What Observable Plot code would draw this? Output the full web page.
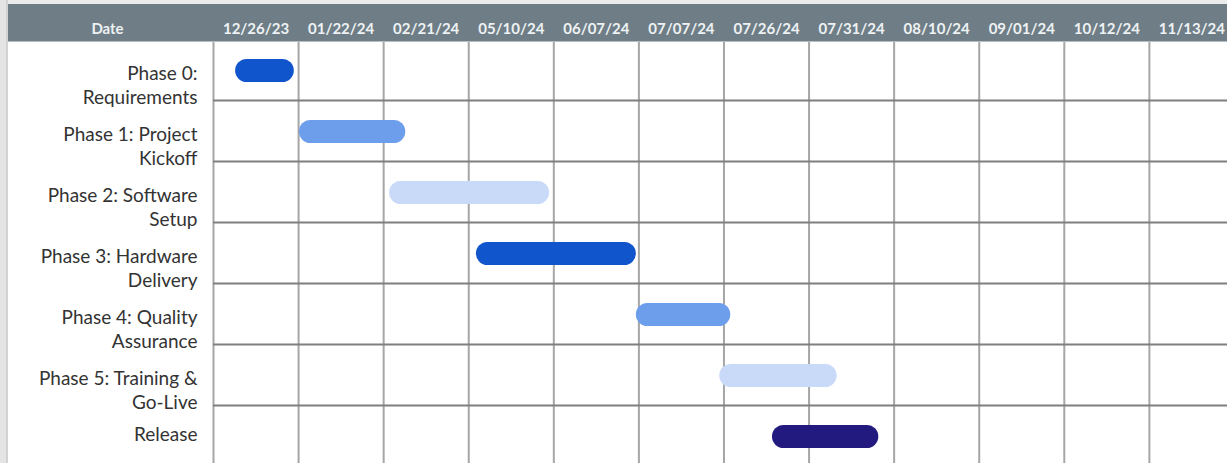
<!DOCTYPE html>
<html>
<head>
<meta charset="utf-8">
<script src="https://cdn.jsdelivr.net/npm/d3@7"></script>
<script src="https://cdn.jsdelivr.net/npm/@observablehq/plot@0.6"></script>
<style>
  html, body { margin: 0; padding: 0; background: white; }
  #chart { width: 1227px; height: 463px; overflow: hidden; }
</style>
</head>
<body>
<div id="chart"></div>
<script>
// Column headers (categorical date columns)
const dateColumns = ["12/26/23","01/22/24","02/21/24","05/10/24","06/07/24","07/07/24","07/26/24","07/31/24","08/10/24","09/01/24","10/12/24","11/13/24"];
const headerTitle = "Date";

// Tasks
const phaseLabels = [
  "Phase 0:\nRequirements",
  "Phase 1: Project\nKickoff",
  "Phase 2: Software\nSetup",
  "Phase 3: Hardware\nDelivery",
  "Phase 4: Quality\nAssurance",
  "Phase 5: Training &\nGo-Live",
  "Release"
];
// start / end positions in column units (0 = left edge of first date column)
const taskStart = [0.26, 1.01, 2.07, 3.09, 4.97, 5.95, 6.57];
const taskEnd   = [0.95, 2.26, 3.95, 4.97, 6.08, 7.33, 7.82];
const taskColor = ["#1155cc", "#6d9eeb", "#c9daf8", "#1155cc", "#6d9eeb", "#c9daf8", "#231a7f"];

const tasks = phaseLabels.map((label, i) => ({
  row: i, label, start: taskStart[i], end: taskEnd[i], color: taskColor[i]
}));
const cols = dateColumns.map((d, i) => ({i, d}));
const colBoundaries = dateColumns.map((d, i) => i);
const rowBoundaries = phaseLabels.slice(1).map((d, i) => i + 1);

const W = 1227, H = 463;

const chart = Plot.plot({
  width: W,
  height: H,
  marginLeft: 213,
  marginRight: 0,
  marginTop: 42,
  marginBottom: 0,
  style: {fontFamily: "Lato, 'Open Sans', sans-serif", background: "white", overflow: "hidden"},
  x: {domain: [0, dateColumns.length], range: [213, 213 + 85.08 * dateColumns.length], axis: null},
  y: {domain: [0, phaseLabels.length], range: [39, 39 + 61 * phaseLabels.length], axis: null},
  marks: [
    Plot.ruleX(colBoundaries, {x: d => d, stroke: "#a6a6a6", strokeWidth: 2}),
    Plot.ruleY(rowBoundaries, {y: d => d, stroke: "#7f7f7f", strokeWidth: 2}),
    Plot.rect(tasks, {
      x1: "start", x2: "end",
      y1: "row", y2: d => d.row + 1,
      insetTop: 20, insetBottom: 18,
      rx: 11.5,
      fill: "color"
    }),
    // Row labels
    Plot.text(tasks.filter(d => d.label.includes("\n")), {
      y: d => d.row + 0.5, text: "label",
      frameAnchor: "left", dx: -16, dy: 14.5, textAnchor: "end",
      lineAnchor: "middle", lineHeight: 1.24,
      fontSize: 19, fill: "#333333"
    }),
    Plot.text(tasks.filter(d => !d.label.includes("\n")), {
      y: d => d.row + 0.5, text: "label",
      frameAnchor: "left", dx: -16, dy: -1, textAnchor: "end",
      fontSize: 19, fill: "#333333"
    }),
    // Header labels
    Plot.text(cols, {
      x: d => d.i + 0.5, text: "d",
      frameAnchor: "top", dy: -19,
      fontSize: 15, fontWeight: "bold", fill: "#eef2f4"
    }),
    Plot.text([headerTitle], {
      text: d => d,
      frameAnchor: "top-left", dx: -106, dy: -19,
      textAnchor: "middle",
      fontSize: 15, fontWeight: "bold", fill: "#eef2f4"
    })
  ]
});

// Decorative sheet frame: header band, top strip and left strip (drawn beneath marks)
const svg = d3.select(chart);
const firstG = chart.querySelector("g");
const bg = svg.insert("g", () => firstG);
bg.append("rect").attr("x", 0).attr("y", 0).attr("width", W).attr("height", 4).attr("fill", "#ebebeb");
bg.append("rect").attr("x", 8).attr("y", 4).attr("width", W - 8).attr("height", 37.5).attr("fill", "#6f7e86");
bg.append("rect").attr("x", 0).attr("y", 0).attr("width", 8).attr("height", H).attr("fill", "#e4e4e4");
bg.append("rect").attr("x", 6).attr("y", 0).attr("width", 2).attr("height", H).attr("fill", "#d2d2d2");

document.getElementById("chart").appendChild(chart);
</script>
</body>
</html>
